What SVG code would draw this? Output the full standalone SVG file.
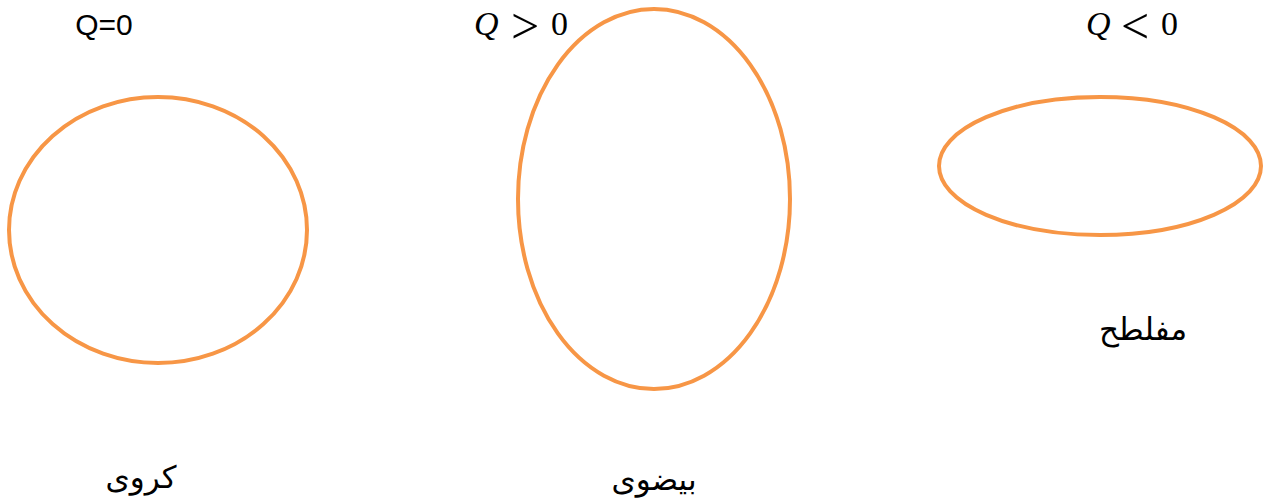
<svg xmlns="http://www.w3.org/2000/svg" width="1270" height="504" viewBox="0 0 1270 504">
<style>
.sh{fill:none;stroke:#F79646;stroke-width:4}
.lb{font-family:"Liberation Sans",Arial,sans-serif;font-size:30px;fill:#000}
.m{font-family:"Liberation Serif","Times New Roman",serif;font-size:34px;fill:#000}
.rel{font-family:"Liberation Serif",serif;font-size:50px}
.ar{font-family:"DejaVu Sans",sans-serif;font-size:31px;fill:#000}
</style>
<rect width="1270" height="504" fill="#fff"/>
<g id="sphere">
<ellipse class="sh" cx="158" cy="230" rx="149" ry="133"/>
<text class="lb" x="104" y="35" text-anchor="middle">Q=0</text>
<text class="ar" x="141" y="488" text-anchor="middle" direction="rtl">كروى</text>
</g>
<g id="prolate">
<ellipse class="sh" cx="654" cy="199" rx="136" ry="190"/>
<text class="m" y="35"><tspan x="474" font-style="italic">Q</tspan><tspan class="rel" x="511" y="43">&gt;</tspan><tspan x="551" y="35">0</tspan></text>
<text class="ar" x="654" y="490" text-anchor="middle" direction="rtl">بيضوى</text>
</g>
<g id="oblate">
<ellipse class="sh" cx="1100" cy="166" rx="161" ry="69"/>
<text class="m" y="35"><tspan x="1086" font-style="italic">Q</tspan><tspan class="rel" x="1121" y="43">&lt;</tspan><tspan x="1161" y="35">0</tspan></text>
<text class="ar" x="1143" y="340" text-anchor="middle" direction="rtl">مفلطح</text>
</g>
<g id="connectors"></g>
</svg>
